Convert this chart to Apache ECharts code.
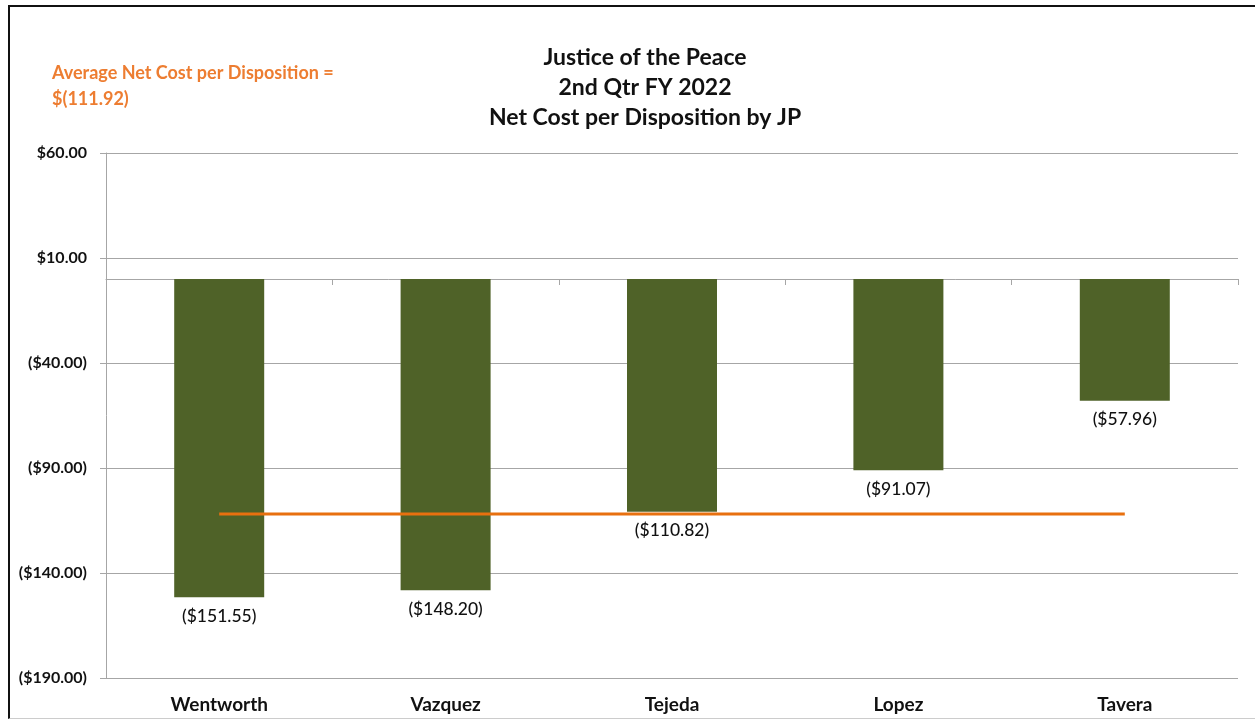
<!DOCTYPE html>
<html>
<head>
<meta charset="utf-8">
<script src="https://cdn.jsdelivr.net/npm/echarts@6/dist/echarts.min.js"></script>
<style>
  html, body { margin: 0; padding: 0; background: #fff; }
  #chart { position: absolute; left: 0; top: 0; width: 1255px; height: 719px; }
  #frame { position: absolute; left: 8px; top: 5px; width: 1260px; height: 711px;
           border-left: 2px solid #111; border-top: 2px solid #111; border-bottom: 1px solid #ccc;
           pointer-events: none; }
</style>
</head>
<body>
<div id="chart"></div>
<div id="frame"></div>
<script>
// judges (categories)
const judges = ['Wentworth', 'Vazquez', 'Tejeda', 'Lopez', 'Tavera'];
// net cost per disposition
const netCost = [-151.55, -148.20, -110.82, -91.07, -57.96];
// average across all JPs
const avgCost = [-111.92, -111.92, -111.92, -111.92, -111.92];
// y axis range
const yMin = -190, yMax = 60, yStep = 50;

const money = v => v < 0 ? '($' + (-v).toFixed(2) + ')' : '$' + v.toFixed(2);
const FONT = 'Lato, "Open Sans", sans-serif';

const chart = echarts.init(document.getElementById('chart'));
chart.setOption({
    animation: false,
    title: [
        {
            text: 'Justice of the Peace\n2nd Qtr FY 2022\nNet Cost per Disposition by JP',
            left: 640,
            textAlign: 'center',
            top: 38,
            textStyle: { fontFamily: FONT, fontSize: 23, fontWeight: 'bold', color: '#111', lineHeight: 30 }
        },
        {
            text: 'Average Net Cost per Disposition =\n$(111.92)',
            left: 47,
            top: 55,
            textStyle: { fontFamily: FONT, fontSize: 18, fontWeight: 'bold', color: '#ed7d31', lineHeight: 26 }
        }
    ],
    grid: { left: 106, right: 17, top: 153, bottom: 41, containLabel: false },
    xAxis: [
        {
            type: 'category',
            data: judges,
            position: 'bottom',
            axisLine: { show: false, onZero: false },
            axisTick: { show: false },
            axisLabel: { margin: 17, fontFamily: FONT, fontSize: 19, fontWeight: 'bold', color: '#111' }
        },
        {
            type: 'category',
            data: judges,
            position: 'bottom',
            axisLine: { show: true, onZero: true, lineStyle: { color: '#a6a6a6', width: 1 } },
            axisTick: { show: true, length: 6, lineStyle: { color: '#a6a6a6' } },
            axisLabel: { show: false }
        }
    ],
    yAxis: {
        type: 'value',
        min: yMin,
        max: yMax,
        interval: yStep,
        axisLine: { show: true, lineStyle: { color: '#a6a6a6' } },
        axisTick: { show: true, length: 6, lineStyle: { color: '#a6a6a6' } },
        splitLine: { lineStyle: { color: '#a6a6a6', width: 1 } },
        axisLabel: { margin: 19, formatter: money, fontFamily: FONT, fontSize: 16, fontWeight: 'bold', color: '#111' }
    },
    series: [
        {
            type: 'bar',
            data: netCost,
            xAxisIndex: 0,
            barWidth: 90,
            itemStyle: { color: '#4f6228' },
            label: {
                show: true,
                position: 'bottom',
                distance: 10,
                formatter: p => money(p.value),
                fontFamily: FONT, fontSize: 17.5, fontWeight: 500, color: '#111'
            }
        },
        {
            type: 'line',
            data: avgCost,
            xAxisIndex: 0,
            symbol: 'none',
            z: 5,
            lineStyle: { color: '#e8700f', width: 3 }
        }
    ]
});
</script>
</body>
</html>
